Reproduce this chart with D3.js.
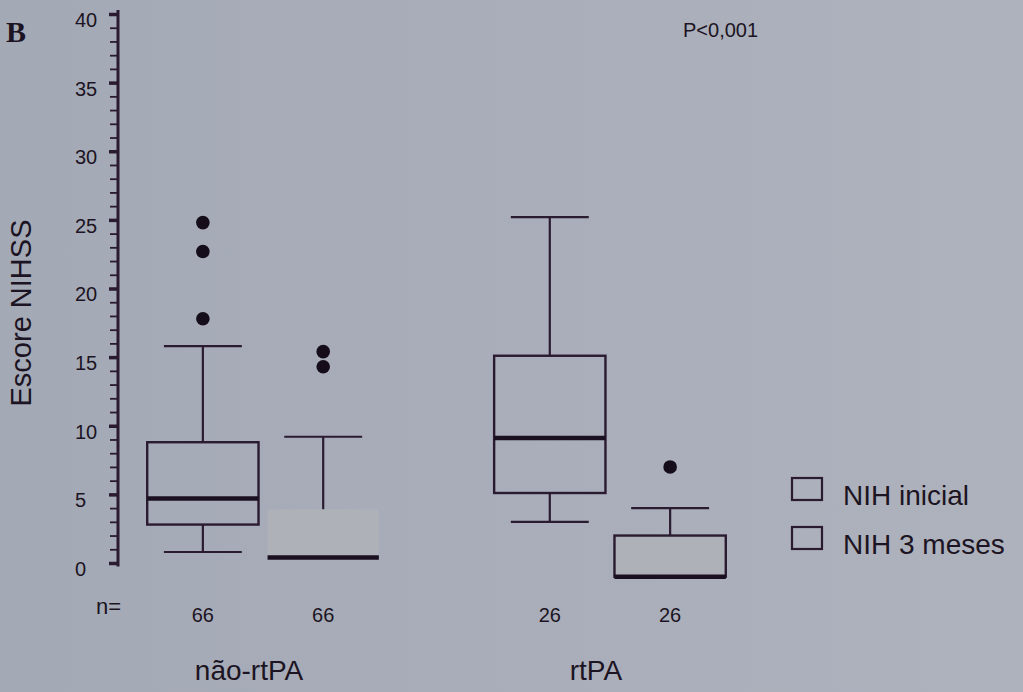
<!DOCTYPE html>
<html>
<head>
<meta charset="utf-8">
<script src="https://cdn.jsdelivr.net/npm/d3@7"></script>
<style>
  body { margin: 0; background: #a9adb9; }
  text { font-family: "Liberation Sans", Arial, sans-serif; fill: #1c1422; }
</style>
</head>
<body>
<div id="chart"></div>
<script>
// groups and series
var groups = ["não-rtPA", "rtPA"];
var series = ["NIH inicial", "NIH 3 meses"];

// one entry per box: não-rtPA/inicial, não-rtPA/3 meses, rtPA/inicial, rtPA/3 meses
var boxGroup = ["não-rtPA", "não-rtPA", "rtPA", "rtPA"];
var boxSeries = ["NIH inicial", "NIH 3 meses", "NIH inicial", "NIH 3 meses"];
var whiskerLow = [0.8, 0.4, 3.0, -1.0];
var q1 = [2.8, 0.4, 5.1, -1.0];
var median = [4.7, 0.4, 9.1, -1.0];
var q3 = [8.8, 3.9, 15.1, 2.0];
var whiskerHigh = [15.8, 9.2, 25.2, 4.0];
var outliers = [[24.8, 22.7, 17.8], [15.4, 14.3], [], [7.0]];
var nValues = [66, 66, 26, 26];

var yTicks = [0, 5, 10, 15, 20, 25, 30, 35, 40];
var pText = "P<0,001";

function drawChart() {
  var W = 1023, H = 692;
  var ink = "#2a1b30";

  var svg = d3.select("#chart").append("svg")
    .attr("width", W)
    .attr("height", H);

  var grad = svg.append("defs").append("linearGradient")
    .attr("id", "bg").attr("x1", "0").attr("x2", "1").attr("y1", "0").attr("y2", "0");
  grad.append("stop").attr("offset", "0").attr("stop-color", "#a4a9b6");
  grad.append("stop").attr("offset", "1").attr("stop-color", "#aeb2bd");
  svg.append("rect").attr("width", W).attr("height", H).attr("fill", "url(#bg)");

  var y = d3.scaleLinear().domain([0, 40]).range([563, 14]);

  var x0 = d3.scaleBand().domain(groups).range([143, 730]).paddingInner(0.308).paddingOuter(0);
  var x1 = d3.scaleBand().domain(series).range([0, x0.bandwidth()]).paddingInner(0.075).paddingOuter(0.035);
  var bw = x1.bandwidth();
  var axisX = 118;

  // y axis: minor ticks every unit, major every 5
  var axisG = svg.append("g").attr("transform", "translate(" + axisX + ",0)");
  axisG.append("g")
    .call(d3.axisLeft(y).tickValues(d3.range(0, 41)).tickSize(8).tickFormat(""))
    .call(g => g.select(".domain").remove())
    .call(g => g.selectAll("line").attr("stroke", ink).attr("stroke-width", 1.8));
  var major = axisG.append("g")
    .call(d3.axisLeft(y).tickValues(yTicks).tickSize(9).tickPadding(0))
    .call(g => g.select(".domain").remove());
  major.selectAll("line").attr("stroke", ink).attr("stroke-width", 3.5);
  major.selectAll("text")
    .attr("text-anchor", "start")
    .attr("x", -43)
    .attr("dy", "0.62em")
    .style("font-family", "'Liberation Sans', Arial, sans-serif")
    .style("font-size", "20px")
    .attr("fill", "#1c1422");
  axisG.append("line")
    .attr("x1", 0).attr("x2", 0)
    .attr("y1", y(40.3)).attr("y2", y(-0.25))
    .attr("stroke", ink).attr("stroke-width", 3);

  // boxes
  var boxes = boxGroup.map(function(g, i) {
    return { group: g, series: boxSeries[i], lo: whiskerLow[i], q1: q1[i], med: median[i],
             q3: q3[i], hi: whiskerHigh[i], out: outliers[i], n: nValues[i], i: i };
  });

  var plot = svg.append("g");
  boxes.forEach(function(d) {
    var left = x0(d.group) + x1(d.series);
    var cx = left + bw / 2;
    var cap = bw * 0.7;
    var g = plot.append("g");
    var shaded = d.series === "NIH 3 meses";
    var outlined = d.i !== 1;

    // upper whisker
    g.append("line").attr("x1", cx).attr("x2", cx).attr("y1", y(d.q3)).attr("y2", y(d.hi))
      .attr("stroke", ink).attr("stroke-width", 2.2);
    g.append("line").attr("x1", cx - cap / 2).attr("x2", cx + cap / 2).attr("y1", y(d.hi)).attr("y2", y(d.hi))
      .attr("stroke", ink).attr("stroke-width", 2.2);
    // lower whisker
    if (d.lo < d.q1) {
      g.append("line").attr("x1", cx).attr("x2", cx).attr("y1", y(d.q1)).attr("y2", y(d.lo))
        .attr("stroke", ink).attr("stroke-width", 2.2);
      g.append("line").attr("x1", cx - cap / 2).attr("x2", cx + cap / 2).attr("y1", y(d.lo)).attr("y2", y(d.lo))
        .attr("stroke", ink).attr("stroke-width", 2.2);
    }
    // box
    g.append("rect")
      .attr("x", left).attr("y", y(d.q3))
      .attr("width", bw).attr("height", y(d.q1) - y(d.q3))
      .attr("fill", shaded ? "#afb1b9" : "none")
      .attr("stroke", outlined ? ink : "none")
      .attr("stroke-width", 2.4);
    // median
    g.append("line").attr("x1", left).attr("x2", left + bw).attr("y1", y(d.med)).attr("y2", y(d.med))
      .attr("stroke", "#1a1020").attr("stroke-width", 4.5);
    // outliers
    g.selectAll("circle").data(d.out).enter().append("circle")
      .attr("cx", cx).attr("cy", v => y(v)).attr("r", 6.8)
      .attr("fill", "#160d1a");
    // n label
    svg.append("text")
      .attr("x", cx).attr("y", 622)
      .attr("text-anchor", "middle")
      .style("font-size", "20px")
      .text(d.n);
  });

  svg.append("text").attr("x", 96).attr("y", 614).style("font-size", "22px").text("n=");

  // group labels
  svg.selectAll(".glabel").data(groups).enter().append("text")
    .attr("class", "glabel")
    .attr("x", d => x0(d) + x0.bandwidth() / 2 - 14)
    .attr("y", 680)
    .attr("text-anchor", "middle")
    .style("font-size", "28px")
    .text(d => d);

  // y title
  svg.append("text")
    .attr("transform", "translate(31,313) rotate(-90)")
    .attr("text-anchor", "middle")
    .style("font-size", "29px")
    .text("Escore NIHSS");

  // panel letter
  svg.append("text")
    .attr("x", 6).attr("y", 42)
    .style("font-family", "'Liberation Serif', 'Times New Roman', serif")
    .style("font-weight", "bold")
    .style("font-size", "30px")
    .text("B");

  svg.append("text")
    .attr("x", 683).attr("y", 37)
    .style("font-size", "20px")
    .text(pText);

  // legend
  var legend = svg.append("g").attr("transform", "translate(792,478)");
  series.forEach(function(s, i) {
    var row = legend.append("g").attr("transform", "translate(0," + (i * 49) + ")");
    row.append("rect").attr("width", 30).attr("height", 22)
      .attr("fill", "none").attr("stroke", ink).attr("stroke-width", 2.2);
    row.append("text").attr("x", 51).attr("y", 27).style("font-size", "28px").text(s);
  });
}

document.addEventListener('DOMContentLoaded', function() {
  drawChart();
});
</script>
</body>
</html>
